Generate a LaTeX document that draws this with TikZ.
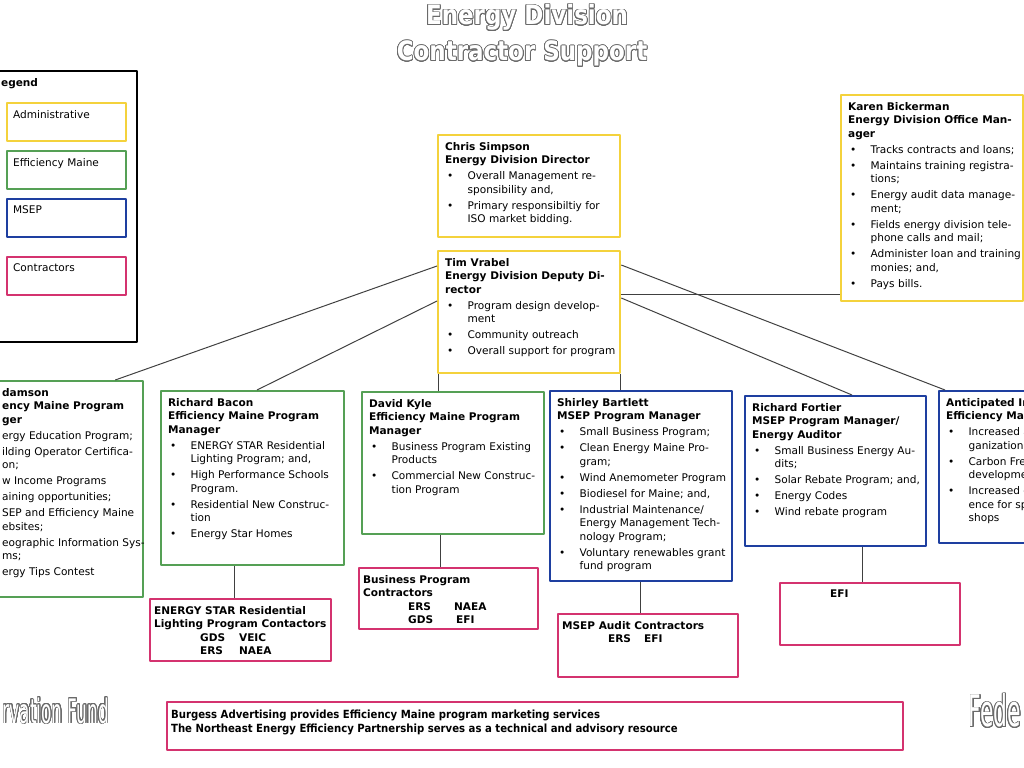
\documentclass[tikz,border=0pt]{standalone}
\usepackage{fontspec}
\setmainfont{DejaVu Sans}
\newfontfamily\narrowfont[FakeStretch=0.9]{DejaVu Sans}
\newfontfamily\tallfont[FakeStretch=0.5]{DejaVu Sans}
\newfontfamily\titlefont[FakeStretch=0.86]{DejaVu Sans}
\usepackage[copies]{contour}
\contourlength{0.55pt}
\contournumber{24}
\usetikzlibrary{calc}
\definecolor{admcol}{HTML}{F4D23C}
\definecolor{effcol}{HTML}{55A055}
\definecolor{msepcol}{HTML}{1E3FA0}
\definecolor{ctrcol}{HTML}{D4336F}
\definecolor{linkcol}{HTML}{404040}
\definecolor{outcol}{HTML}{6A6A6A}
\newlength{\px}
\setlength{\px}{0.025cm}
\newcommand{\boxtext}[3]{\parbox[c][#2\px][t]{#1\px}{\raggedright
  \rightskip=-14pt plus 1fil #3}}
\newcommand{\bul}[1]{\par\vspace{1.8pt}\hangindent=16pt\hangafter=1\noindent
  \makebox[16pt][l]{\hspace{1.5pt}\textbullet}{\let\\\newline #1}\par}

\begin{document}
\begin{tikzpicture}[
  x=0.025cm, y=-0.025cm, line join=round,
  font=\fontsize{7.5pt}{9.6pt}\selectfont,
  ttl/.style={font=\titlefont\bfseries\fontsize{19pt}{22pt}\selectfont, text=white},
  orgbox/.style={draw, line width=1.6pt, anchor=north west,
                 inner xsep=7\px, inner ysep=7\px},
  adm/.style={orgbox, draw=admcol},
  effm/.style={orgbox, draw=effcol},
  msep/.style={orgbox, draw=msepcol},
  ctr/.style={orgbox, draw=ctrcol, inner xsep=4\px,
              font=\fontsize{7.5pt}{9.6pt}\selectfont\bfseries},
  legitem/.style={orgbox, inner xsep=6\px},
  link/.style={draw=linkcol, line width=0.7pt}]

\useasboundingbox (0,0) rectangle (1024,768);
\clip (0,0) rectangle (1024,768);
\fill[white] (0,0) rectangle (1024,768);

% ==================================================== title
\node[ttl] (title) at (527,18) {\contour{outcol}{Energy Division}};
\node[ttl] (subtitle) at (522,54) {\contour{outcol}{Contractor Support}};

% ==================================================== legend
\node[orgbox, draw=black, inner xsep=6\px] (legend) at (-6,70)
  {\boxtext{130}{257}{\textbf{egend}}};
\node[legitem, draw=admcol] (legadm) at (6,102) {\boxtext{107}{24}{Administrative}};
\node[legitem, draw=effcol] (legeff) at (6,150) {\boxtext{107}{24}{Efficiency Maine}};
\node[legitem, draw=msepcol] (legmsep) at (6,198) {\boxtext{107}{24}{MSEP}};
\node[legitem, draw=ctrcol] (legctr) at (6,256) {\boxtext{107}{24}{Contractors}};

% ==================================================== administrative
\node[adm] (chris) at (437,134) {\boxtext{168}{88}{%
  \textbf{Chris Simpson\\Energy Division Director}
  \bul{Overall Management re-\\sponsibility and,}
  \bul{Primary responsibiltiy for\\ISO market bidding.}}};
\node[adm] (tim) at (437,250) {\boxtext{168}{108}{%
  \textbf{Tim Vrabel\\Energy Division Deputy Di-\\rector}
  \bul{Program design develop-\\ment}
  \bul{Community outreach}
  \bul{Overall support for program}}};
\node[adm] (karen) at (840,94) {\boxtext{168}{192}{%
  \textbf{Karen Bickerman\\Energy Division Office Man-\\ager}
  \bul{Tracks contracts and loans;}
  \bul{Maintains training registra-\\tions;}
  \bul{Energy audit data manage-\\ment;}
  \bul{Fields energy division tele-\\phone calls and mail;}
  \bul{Administer loan and training\\monies; and,}
  \bul{Pays bills.}}};

% ==================================================== program managers
\node[effm] (adamson) at (-6,380) {\boxtext{134}{202}{%
  \textbf{damson\\ency Maine Program\\ger}\par
  \vspace{1.8pt}ergy Education Program;\par
  \vspace{1.8pt}ilding Operator Certifica-\\on;\par
  \vspace{1.8pt}w Income Programs\par
  \vspace{1.8pt}aining opportunities;\par
  \vspace{1.8pt}SEP and Efficiency Maine\\ebsites;\par
  \vspace{1.8pt}eographic Information Sys-\\ms;\par
  \vspace{1.8pt}ergy Tips Contest}};
\node[effm] (bacon) at (160,390) {\boxtext{169}{160}{%
  \textbf{Richard Bacon\\Efficiency Maine Program\\Manager}
  \bul{ENERGY STAR Residential\\Lighting Program; and,}
  \bul{High Performance Schools\\Program.}
  \bul{Residential New Construc-\\tion}
  \bul{Energy Star Homes}}};
\node[effm] (kyle) at (361,391) {\boxtext{168}{128}{%
  \textbf{David Kyle\\Efficiency Maine Program\\Manager}
  \bul{Business Program Existing\\Products}
  \bul{Commercial New Construc-\\tion Program}}};
\node[msep] (shirley) at (549,390) {\boxtext{168}{176}{%
  \textbf{Shirley Bartlett\\MSEP Program Manager}
  \bul{Small Business Program;}
  \bul{Clean Energy Maine Pro-\\gram;}
  \bul{Wind Anemometer Program}
  \bul{Biodiesel for Maine; and,}
  \bul{Industrial Maintenance/\\Energy Management Tech-\\nology Program;}
  \bul{Voluntary renewables grant\\fund program}}};
\node[msep] (fortier) at (744,395) {\boxtext{167}{136}{%
  \textbf{Richard Fortier\\MSEP Program Manager/\\Energy Auditor}
  \bul{Small Business Energy Au-\\dits;}
  \bul{Solar Rebate Program; and,}
  \bul{Energy Codes}
  \bul{Wind rebate program}}};
\node[msep] (antic) at (938,390) {\boxtext{186}{138}{%
  \textbf{Anticipated In\\Efficiency Main}
  \bul{Increased a\\ganizationa}
  \bul{Carbon Free\\developmen}
  \bul{Increased c\\ence for sp\\shops}}};

% ==================================================== contractors
\node[ctr] (estar) at (149,598) {\boxtext{173}{48}{%
  ENERGY STAR Residential\\Lighting Program Contactors\\
  \hspace*{46\px}\makebox[39\px][l]{GDS}VEIC\\
  \hspace*{46\px}\makebox[39\px][l]{ERS}NAEA}};
\node[ctr] (bizc) at (358,567) {\boxtext{171}{47}{%
  Business Program\\Contractors\\
  \hspace*{45\px}\makebox[46\px][l]{ERS}NAEA\\
  \hspace*{45\px}\makebox[48\px][l]{GDS}EFI}};
\node[ctr] (auditc) at (557,613) {\boxtext{172}{49}{%
  MSEP Audit Contractors\\
  \hspace*{46\px}\makebox[36\px][l]{ERS}EFI}};
\node[ctr] (efi) at (779,582) {\boxtext{172}{48}{%
  \hspace*{46\px}EFI}};
\node[ctr, font=\narrowfont\fontsize{8pt}{9.7pt}\selectfont\bfseries,
      inner ysep=8\px] (burgess) at (166,701) {\boxtext{728}{32}{%
  Burgess Advertising provides Efficiency Maine program marketing services\\
  The Northeast Energy Efficiency Partnership serves as a technical and advisory resource}};

% the two cut-off names at the foot
\node[anchor=west, text=white, font=\tallfont\fontsize{24pt}{26pt}\selectfont]
  (fund) at (-2,711) {\contour{outcol}{rvation Fund}};
\node[anchor=west, text=white, font=\tallfont\fontsize{31pt}{33pt}\selectfont]
  (fede) at (964,711) {\contour{outcol}{Fede}};

% ==================================================== connectors
\draw[link] ($(tim.north west)+(0,16)$) -- ($(adamson.north east)+(-29,0)$);
\draw[link] ($(tim.north west)+(0,51)$) -- ($(bacon.north west)+(97,0)$);
\draw[link] ($(tim.north east)+(0,15)$) -- ($(antic.north west)+(7,0)$);
\draw[link] ($(tim.north east)+(0,44)$) coordinate (h) -- (h -| karen.west);
\draw[link] ($(tim.north east)+(0,48)$) -- ($(fortier.north west)+(108,0)$);
\draw[link] ($(kyle.north west)+(77,0)$) coordinate (k) -- (k |- tim.south);
\draw[link] ($(shirley.north west)+(71,0)$) coordinate (s) -- (s |- tim.south);
\draw[link] ($(bacon.south west)+(74,0)$) coordinate (b) -- (b |- estar.north);
\draw[link] ($(kyle.south west)+(79,0)$) coordinate (d) -- (d |- bizc.north);
\draw[link] ($(shirley.south west)+(91,0)$) coordinate (m) -- (m |- auditc.north);
\draw[link] ($(fortier.south west)+(118,0)$) coordinate (f) -- (f |- efi.north);

\end{tikzpicture}
\end{document}
